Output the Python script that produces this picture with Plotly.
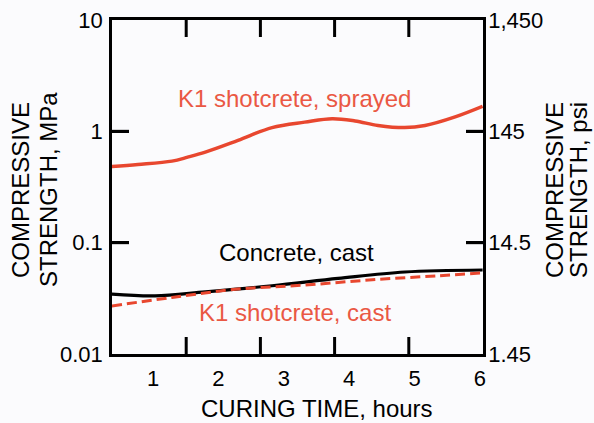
import plotly.graph_objects as go

# ---- data ----
series_names = ["K1 shotcrete, sprayed", "Concrete, cast", "K1 shotcrete, cast"]

hours_sprayed = [0.37, 0.77, 1.29, 1.53, 1.80, 2.30, 2.82, 3.32, 3.74, 4.09, 4.44, 4.85, 5.16, 5.62, 6.04]
mpa_sprayed = [0.484, 0.504, 0.540, 0.586, 0.651, 0.830, 1.08, 1.21, 1.30, 1.24, 1.13, 1.08, 1.13, 1.35, 1.68]

hours_concrete = [0.37, 1.03, 1.80, 2.82, 3.83, 4.85, 6.04]
mpa_concrete = [0.0345, 0.0333, 0.0362, 0.0410, 0.0477, 0.0545, 0.0568]

hours_k1cast = [0.37, 1.29, 2.30, 3.32, 4.35, 5.36, 6.04]
mpa_k1cast = [0.0270, 0.0322, 0.0383, 0.0416, 0.0464, 0.0504, 0.0535]

x_tick_vals = [1, 2, 3, 4, 5, 6]
y_tick_vals = [0.01, 0.1, 1, 10]
y_tick_text = ["0.01", "0.1", "1", "10"]
psi_tick_vals = [1.45, 14.5, 145, 1450]
psi_tick_text = ["1.45", "14.5", "145", "1,450"]
frame_tick_parts = 5          # x tick marks split the frame into 5 equal parts

x_title = "CURING TIME, hours"
y_title_lines = ["COMPRESSIVE", "STRENGTH, MPa"]
y2_title_lines = ["COMPRESSIVE", "STRENGTH, psi"]

RED = "#e8472f"
RED_TXT = "#ea5844"
FONT = "Liberation Sans, Arial, sans-serif"
BG = "#fbfbfd"
X_RANGE = [0.373, 6.046]
Y_RANGE = [-2, 1]
W, H = 594, 423
M = dict(l=112, r=111, t=20, b=69)
TICK_LEN = 17
plot_w = W - M["l"] - M["r"]
plot_h = H - M["t"] - M["b"]

fig = go.Figure()

# inward tick marks on the frame, expressed in axis units
dx = TICK_LEN / plot_w * (X_RANGE[1] - X_RANGE[0])
dy = TICK_LEN / plot_h * (Y_RANGE[1] - Y_RANGE[0])
tx, ty = [], []
for k in range(1, frame_tick_parts):
    xv = X_RANGE[0] + k * (X_RANGE[1] - X_RANGE[0]) / frame_tick_parts
    tx += [xv, xv, None, xv, xv, None]
    ty += [10 ** Y_RANGE[0], 10 ** (Y_RANGE[0] + dy), None,
           10 ** (Y_RANGE[1] - dy), 10 ** Y_RANGE[1], None]
for v in y_tick_vals[1:-1]:
    tx += [X_RANGE[0], X_RANGE[0] + dx, None, X_RANGE[1] - dx, X_RANGE[1], None]
    ty += [v, v, None, v, v, None]
fig.add_trace(go.Scatter(x=tx, y=ty, mode="lines", line=dict(color="black", width=3),
                         showlegend=False, hoverinfo="skip", cliponaxis=False))

fig.add_trace(go.Scatter(x=hours_sprayed, y=mpa_sprayed, mode="lines",
                         line=dict(color=RED, width=3.5, shape="spline"),
                         name=series_names[0], showlegend=False))
fig.add_trace(go.Scatter(x=hours_concrete, y=mpa_concrete, mode="lines",
                         line=dict(color="black", width=3.2, shape="spline"),
                         name=series_names[1], showlegend=False))
fig.add_trace(go.Scatter(x=hours_k1cast, y=mpa_k1cast, mode="lines",
                         line=dict(color=RED, width=3, dash="10px,5px", shape="spline"),
                         name=series_names[2], showlegend=False))
# helper trace carrying the psi axis
fig.add_trace(go.Scatter(x=[None], y=[None], xaxis="x", yaxis="y2",
                         showlegend=False, hoverinfo="skip"))

# curve labels
fig.add_annotation(x=3.17, y=0.297, xref="x", yref="y", text=series_names[0], showarrow=False,
                   font=dict(family=FONT, size=24, color=RED_TXT))
fig.add_annotation(x=3.2, y=-1.09, xref="x", yref="y", text=series_names[1], showarrow=False,
                   font=dict(family=FONT, size=24, color="black"))
fig.add_annotation(x=3.17, y=-1.631, xref="x", yref="y", text=series_names[2], showarrow=False,
                   font=dict(family=FONT, size=24, color=RED_TXT))

# axis titles
tfont = dict(family=FONT, size=24, color="black")
fig.add_annotation(x=0.553, y=0, xref="paper", yref="paper", yshift=-54, text=x_title,
                   showarrow=False, font=tfont, xanchor="center", yanchor="middle")
for i, line in enumerate(y_title_lines):
    fig.add_annotation(x=0, y=0.491, xref="paper", yref="paper", xshift=[-92, -64][i],
                       text=line, textangle=-90, showarrow=False, font=tfont,
                       xanchor="center", yanchor="middle")
for i, line in enumerate(y2_title_lines):
    fig.add_annotation(x=1, y=0.491, xref="paper", yref="paper", xshift=[71, 95][i],
                       text=line, textangle=-90, showarrow=False, font=tfont,
                       xanchor="center", yanchor="middle")

axis_common = dict(showgrid=False, zeroline=False, automargin=False,
                   showline=True, linecolor="black", linewidth=2.5)

fig.update_layout(
    width=W, height=H,
    margin=M,
    paper_bgcolor=BG, plot_bgcolor=BG,
    font=dict(family=FONT, size=22, color="black"),
    xaxis=dict(range=X_RANGE, tickvals=x_tick_vals, mirror=True, ticks="",
               tickfont=dict(size=22), ticklabelstandoff=3, **axis_common),
    yaxis=dict(type="log", range=Y_RANGE, tickvals=y_tick_vals, ticktext=y_tick_text,
               ticks="inside", ticklen=TICK_LEN, tickwidth=2.5, tickcolor="black", mirror="ticks",
               tickfont=dict(size=22), ticklabelstandoff=2, **axis_common),
    yaxis2=dict(type="log", range=[0.161368, 3.161368], overlaying="y", side="right", anchor="x",
                tickvals=psi_tick_vals, ticktext=psi_tick_text, ticks="",
                tickfont=dict(size=22), ticklabelstandoff=-2, **axis_common),
)

fig.write_html("out.html", config={"displayModeBar": False},
               post_script="document.body.style.margin='0px';document.body.style.overflow='hidden';")
